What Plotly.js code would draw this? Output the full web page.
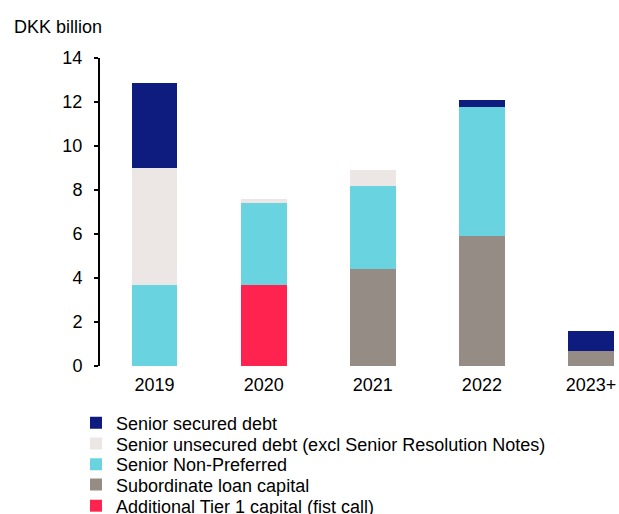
<!DOCTYPE html>
<html>
<head>
<meta charset="utf-8">
<script src="https://cdn.plot.ly/plotly-3.0.1.min.js"></script>
<style>html,body{margin:0;padding:0;background:#fff;}#chart{width:619px;height:514px;}</style>
</head>
<body>
<div id="chart"></div>
<script>
const categories = ["2019", "2020", "2021", "2022", "2023+"];
const at1 = [0, 3.68, 0, 0, 0];
const subordinate = [0, 0, 4.42, 5.92, 0.70];
const seniorNonPreferred = [3.68, 3.74, 3.76, 5.85, 0];
const seniorUnsecured = [5.33, 0.16, 0.73, 0, 0];
const seniorSecured = [3.87, 0, 0, 0.33, 0.90];

const seriesNames = [
  "Additional Tier 1 capital (fist call)",
  "Subordinate loan capital",
  "Senior Non-Preferred",
  "Senior unsecured debt (excl Senior Resolution Notes)",
  "Senior secured debt"
];
const seriesValues = [at1, subordinate, seniorNonPreferred, seniorUnsecured, seniorSecured];
const colors = ["#FF2450", "#948C85", "#69D3DF", "#ECE7E4", "#0E1C80"];
// one legend per series so rows can sit as tightly as in the reference
const legendIds = ["legend5", "legend4", "legend3", "legend2", "legend"];
const legendRowY = [-0.4545, -0.386, -0.320, -0.253, -0.185];

const traces = seriesNames.map((n, i) => ({
  type: "bar",
  name: n,
  x: categories,
  y: seriesValues[i],
  legend: legendIds[i],
  marker: {color: colors[i], line: {width: 0}},
  hoverinfo: "name+y"
}));

const font = {family: "Liberation Sans, Arial, sans-serif", size: 18, color: "#000"};

const layout = {
  width: 619, height: 514,
  margin: {l: 100, r: 4, t: 58, b: 148, autoexpand: false},
  barmode: "stack",
  bargap: 0.58,
  paper_bgcolor: "#fff",
  plot_bgcolor: "#fff",
  font: font,
  showlegend: true,
  xaxis: {
    type: "category",
    range: [-0.5, 4.22],
    showline: false,
    showgrid: false,
    zeroline: false,
    ticks: "",
    ticklabelstandoff: 6,
    tickfont: font
  },
  yaxis: {
    range: [0, 14],
    dtick: 2,
    showline: true,
    linecolor: "#000",
    linewidth: 2,
    ticks: "outside",
    ticklen: 4,
    tickwidth: 2,
    tickcolor: "#000",
    ticklabelstandoff: 8,
    showgrid: false,
    zeroline: false,
    tickfont: font
  },
  annotations: [{
    text: "DKK billion",
    xref: "paper", yref: "paper",
    x: -0.171, y: 1.1,
    xanchor: "left", yanchor: "middle",
    showarrow: false,
    font: font
  }]
};

legendIds.forEach((id, i) => {
  layout[id] = {
    x: -0.0466, xanchor: "left",
    y: legendRowY[i], yanchor: "middle",
    font: font,
    itemclick: false,
    bgcolor: "rgba(0,0,0,0)",
    borderwidth: 0
  };
});

Plotly.newPlot("chart", traces, layout, {displayModeBar: false, staticPlot: true});
</script>
</body>
</html>
